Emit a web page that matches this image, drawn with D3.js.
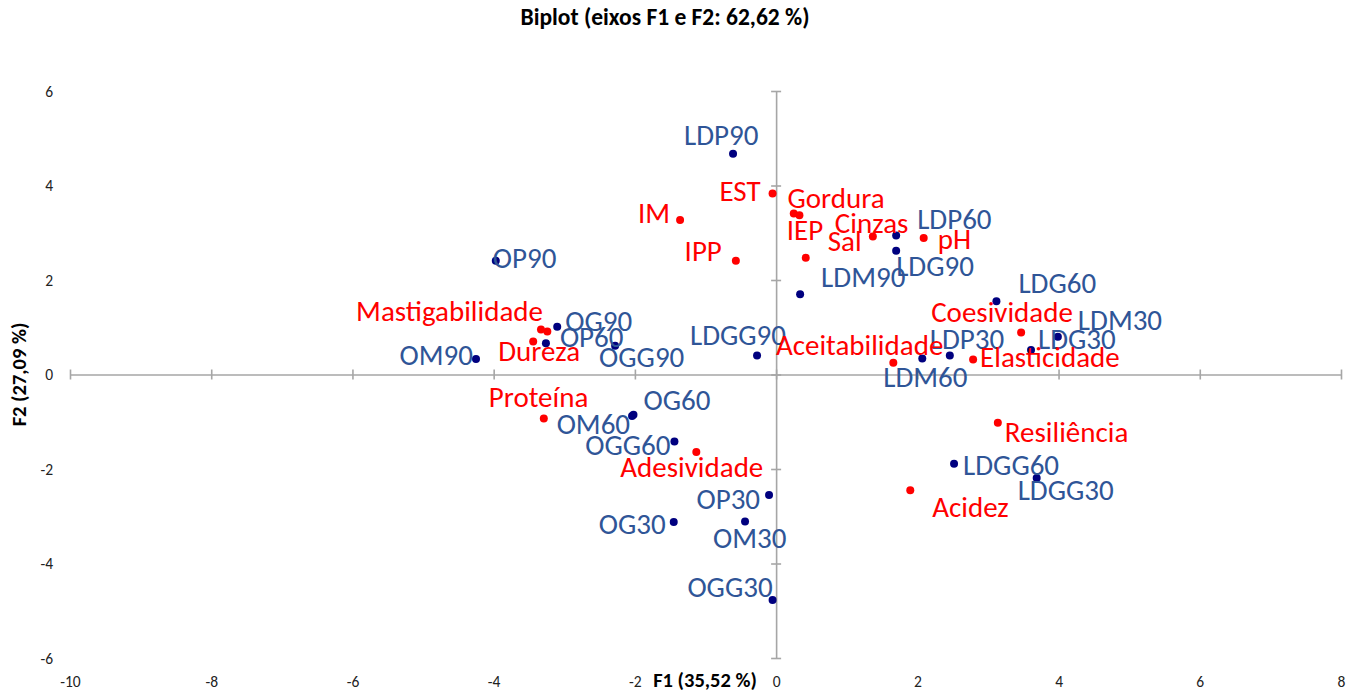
<!DOCTYPE html>
<html>
<head>
<meta charset="utf-8">
<script src="https://cdn.jsdelivr.net/npm/d3@7"></script>
<style>
  html, body { margin: 0; padding: 0; background: #fff; }
  svg { display: block; }
</style>
</head>
<body>
<svg id="chart" width="1358" height="692"></svg>
<script>
// Observations (samples) on F1 / F2
const obsNames = ["LDP90","OP90","OG90","OP60","OGG90","OM90","LDGG90","LDM90","LDP60","LDG90",
  "LDG60","LDM30","LDG30","LDP30","LDM60","OG60","OM60","OGG60","OP30","OM30","OG30","OGG30",
  "LDGG60","LDGG30"];
const obsF1 = [-0.61,-3.97,-3.10,-3.26,-2.28,-4.25,-0.27,0.34,1.70,1.70,
  3.12,3.99,3.61,2.46,2.07,-2.02,-2.04,-1.44,-0.10,-0.44,-1.45,-0.05,
  2.52,3.69];
const obsF2 = [4.67,2.41,1.01,0.66,0.61,0.33,0.40,1.70,2.94,2.62,
  1.55,0.80,0.52,0.40,0.34,-0.85,-0.88,-1.42,-2.55,-3.11,-3.12,-4.77,
  -1.89,-2.19];

// Variables on F1 / F2
const varNames = ["EST","Gordura","IEP","IM","IPP","Sal","Cinzas","pH","Mastigabilidade","Gomosidade",
  "Dureza","Proteína","Adesividade","Coesividade","Aceitabilidade","Elasticidade","Resiliência","Acidez"];
const varF1 = [-0.05,0.33,0.25,-1.36,-0.57,0.42,1.37,2.09,-3.33,-3.24,
  -3.44,-3.29,-1.13,3.47,1.66,2.79,3.14,1.90];
const varF2 = [3.83,3.37,3.41,3.27,2.41,2.47,2.92,2.89,0.95,0.91,
  0.70,-0.93,-1.64,0.89,0.25,0.32,-1.02,-2.45];

// Axis ticks
const xTicks = [-10,-8,-6,-4,-2,0,2,4,6,8];
const yTicks = [-6,-4,-2,0,2,4,6];

const titleText = "Biplot (eixos F1 e F2: 62,62 %)";
const xTitle = "F1 (35,52 %)";
const yTitle = "F2 (27,09 %)";

// Label placement next to each point: [dx, dy, anchor]; null = label not shown
const obsLabelPos = {
  LDP90:[-49,-9,"start"], OP90:[-3,7,"start"], OG90:[8,4,"start"], OP60:[14,4,"start"],
  OGG90:[-16,21,"start"], OM90:[-3,6,"end"], LDGG90:[29,-11,"end"], LDM90:[21,-7,"start"],
  LDP60:[21,-7,"start"], LDG90:[0,25,"start"], LDG60:[22,-8,"start"], LDM30:[20,-7,"start"],
  LDG30:[7,-1,"start"], LDP30:[-20,-7,"start"], LDM60:[-39,29,"start"], OG60:[10,-5,"start"],
  OM60:[-2,18,"end"], OGG60:[-4,13,"end"], OP30:[-9,14,"end"], OM30:[-32,27,"start"],
  OG30:[-8,12,"end"], OGG30:[0,-3,"end"], LDGG60:[9,11,"start"], LDGG30:[-19,22,"start"]
};
const varLabelPos = {
  EST:[-12,7,"end"], Gordura:[-12,-7,"start"], IEP:[-7,27,"start"], IM:[-10,3,"end"],
  IPP:[-14,0,"end"], Sal:[22,-7,"start"], Cinzas:[-38,-4,"start"], pH:[14,11,"start"],
  Mastigabilidade:[2,-9,"end"], Gomosidade:null, Dureza:[-35,20,"start"],
  "Proteína":[-55,-11,"start"], Adesividade:[-76,25,"start"], Coesividade:[-90,-10,"start"],
  Aceitabilidade:[50,-8,"end"], Elasticidade:[7,8,"start"], "Resiliência":[7,19,"start"],
  Acidez:[22,27,"start"]
};

const obsData = obsNames.map((n,i) => ({name:n, f1:obsF1[i], f2:obsF2[i]}));
const varData = varNames.map((n,i) => ({name:n, f1:varF1[i], f2:varF2[i]}));

const svg = d3.select("#chart");
const FONT = "Carlito, Calibri, Lato, sans-serif";
const axisColor = "#a6a6a6";

const x = d3.scaleLinear().domain([-10, 8]).range([70, 1341]);
const y = d3.scaleLinear().domain([-6, 6]).range([658, 91]);

// Title
svg.append("text")
  .attr("x", 665).attr("y", 17).attr("dy", "0.35em")
  .attr("text-anchor", "middle")
  .attr("font-family", FONT).attr("font-weight", "bold").attr("font-size", 23.5)
  .attr("fill", "#000")
  .text(titleText);

// Horizontal axis through F2 = 0
const xAxisG = svg.append("g")
  .attr("transform", `translate(0,${y(0)})`)
  .call(d3.axisBottom(x).tickValues(xTicks).tickSizeOuter(0).tickSizeInner(5).tickFormat(d => String(d)));
xAxisG.select(".domain").attr("stroke", axisColor).attr("stroke-width", 1.6);
xAxisG.selectAll(".tick line").attr("y1", -5).attr("y2", 5).attr("stroke", axisColor).attr("stroke-width", 1.6);
xAxisG.selectAll(".tick text")
  .attr("y", 682 - y(0)).attr("dy", "0.35em")
  .attr("font-family", FONT).attr("font-size", 15.5).attr("fill", "#222");

// Vertical axis through F1 = 0
const yAxisG = svg.append("g")
  .attr("transform", `translate(${x(0)},0)`)
  .call(d3.axisLeft(y).tickValues(yTicks).tickSizeOuter(0).tickSizeInner(5).tickFormat(d => String(d)));
yAxisG.select(".domain").attr("stroke", axisColor).attr("stroke-width", 1.6);
yAxisG.selectAll(".tick line").attr("x1", -5).attr("x2", 5).attr("stroke", axisColor).attr("stroke-width", 1.6);
yAxisG.selectAll(".tick text")
  .attr("x", 53 - x(0)).attr("dy", "0.35em").attr("text-anchor", "end")
  .attr("font-family", FONT).attr("font-size", 15.5).attr("fill", "#222");

// Axis titles
svg.append("text")
  .attr("x", 705).attr("y", 680).attr("dy", "0.35em")
  .attr("text-anchor", "middle")
  .attr("font-family", FONT).attr("font-weight", "bold").attr("font-size", 20.5)
  .text(xTitle);
svg.append("text")
  .attr("transform", `translate(19,${y(0)}) rotate(-90)`)
  .attr("text-anchor", "middle").attr("dy", "0.35em")
  .attr("font-family", FONT).attr("font-weight", "bold").attr("font-size", 20.5)
  .text(yTitle);

const LABEL_SIZE = 29;

// Observations: navy points with blue labels
const obsG = svg.append("g");
obsG.selectAll("circle").data(obsData).join("circle")
  .attr("cx", d => x(d.f1)).attr("cy", d => y(d.f2))
  .attr("r", 4).attr("fill", "#00007f");
obsG.selectAll("text").data(obsData.filter(d => obsLabelPos[d.name])).join("text")
  .attr("x", d => x(d.f1) + obsLabelPos[d.name][0])
  .attr("y", d => y(d.f2) + obsLabelPos[d.name][1])
  .attr("text-anchor", d => obsLabelPos[d.name][2])
  .attr("font-family", FONT).attr("font-size", LABEL_SIZE)
  .attr("fill", "#2f5597")
  .text(d => d.name);

// Variables: red points with red labels
const varG = svg.append("g");
varG.selectAll("circle").data(varData).join("circle")
  .attr("cx", d => x(d.f1)).attr("cy", d => y(d.f2))
  .attr("r", 4).attr("fill", "#ff0000");
varG.selectAll("text").data(varData.filter(d => varLabelPos[d.name])).join("text")
  .attr("x", d => x(d.f1) + varLabelPos[d.name][0])
  .attr("y", d => y(d.f2) + varLabelPos[d.name][1])
  .attr("text-anchor", d => varLabelPos[d.name][2])
  .attr("font-family", FONT).attr("font-size", LABEL_SIZE)
  .attr("fill", "#ff0000")
  .text(d => d.name);
</script>
</body>
</html>
